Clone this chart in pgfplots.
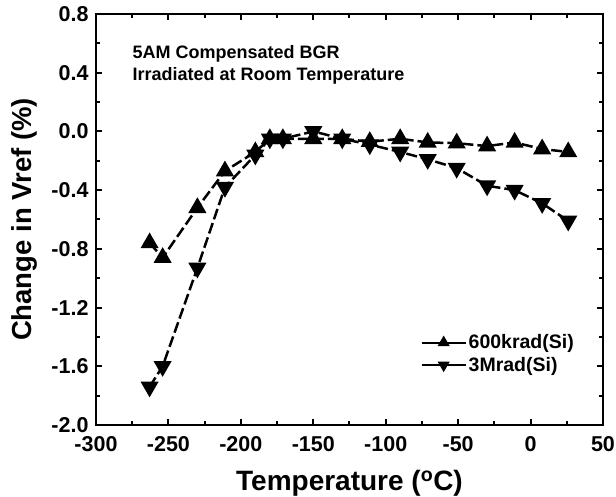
\documentclass[border=0pt]{standalone}
\usepackage{pgfplots}
\pgfplotsset{compat=1.18}
\usepackage{fontspec}
\setmainfont{Liberation Sans}
\begin{document}
\begin{tikzpicture}
\begin{axis}[
  scale only axis,
  width=507pt, height=411pt,
  xmin=-300, xmax=50, ymin=-2.0, ymax=0.8,
  xtick={-300,-250,...,50},
  ytick={-2.0,-1.6,...,0.8},
  minor x tick num=1, minor y tick num=1,
  tick align=inside,
  major tick length=6pt, minor tick length=4pt,
  axis line style={line width=2.5pt},
  every tick/.style={line width=2pt, black},
  /pgf/number format/assume math mode=true,
  xticklabel style={font=\bfseries\fontsize{21.5}{24}\selectfont, yshift=-8pt},
  yticklabel style={font=\bfseries\fontsize{21.5}{24}\selectfont, xshift=-4pt, /pgf/number format/fixed, /pgf/number format/fixed zerofill, /pgf/number format/precision=1},
  xlabel={Temperature (\textsuperscript{o}C)},
  ylabel={Change in Vref (\%)},
  xlabel style={font=\bfseries\fontsize{28}{30}\selectfont, yshift=-12pt},
  ylabel style={font=\bfseries\fontsize{27.5}{30}\selectfont, yshift=7pt},
  legend style={draw=none, fill=none, at={(rel axis cs:0.64,0.225)}, anchor=north west,
    font=\bfseries\fontsize{19.5}{22}\selectfont, row sep=3pt, inner sep=0pt},
  legend cell align=left,
  legend image code/.code={\draw[#1, solid, line width=2pt] (0pt,0pt) -- (44pt,0pt); \path[#1, solid, mark size=4.5pt] plot coordinates {(22pt,0pt)};},
]
\addplot[black, line width=2.5pt, dash pattern=on 11pt off 4pt, mark=triangle*, mark size=8pt, mark options={solid, fill=black}]
coordinates {
(-263,-0.76) (-254,-0.86) (-230,-0.52) (-211,-0.27) (-190,-0.14) (-180,-0.05)
(-171,-0.05) (-150,-0.05) (-130,-0.05) (-111,-0.07) (-90,-0.05) (-71,-0.075)
(-51,-0.08) (-30,-0.10) (-11,-0.075) (8,-0.12) (26,-0.14)
};
\addlegendentry{600krad(Si)}
\addplot[black, line width=2.5pt, dash pattern=on 11pt off 4pt, mark=triangle*, mark size=8pt, mark options={solid, fill=black, rotate=180}]
coordinates {
(-263,-1.74) (-254,-1.60) (-230,-0.93) (-211,-0.38) (-190,-0.16) (-180,-0.05)
(-171,-0.05) (-150,0.0) (-130,-0.05) (-111,-0.09) (-90,-0.14) (-71,-0.19)
(-51,-0.25) (-30,-0.37) (-11,-0.40) (8,-0.49) (26,-0.61)
};
\addlegendentry{3Mrad(Si)}
\node[anchor=north west, align=left, font=\bfseries\fontsize{18}{22}\selectfont, inner sep=0pt]
  at (rel axis cs:0.072,0.925) {5AM Compensated BGR\\Irradiated at Room Temperature};
\end{axis}
\pgfresetboundingbox
\path[use as bounding box] (-96pt,-72pt) rectangle (520pt,425pt);
\end{tikzpicture}
\end{document}
